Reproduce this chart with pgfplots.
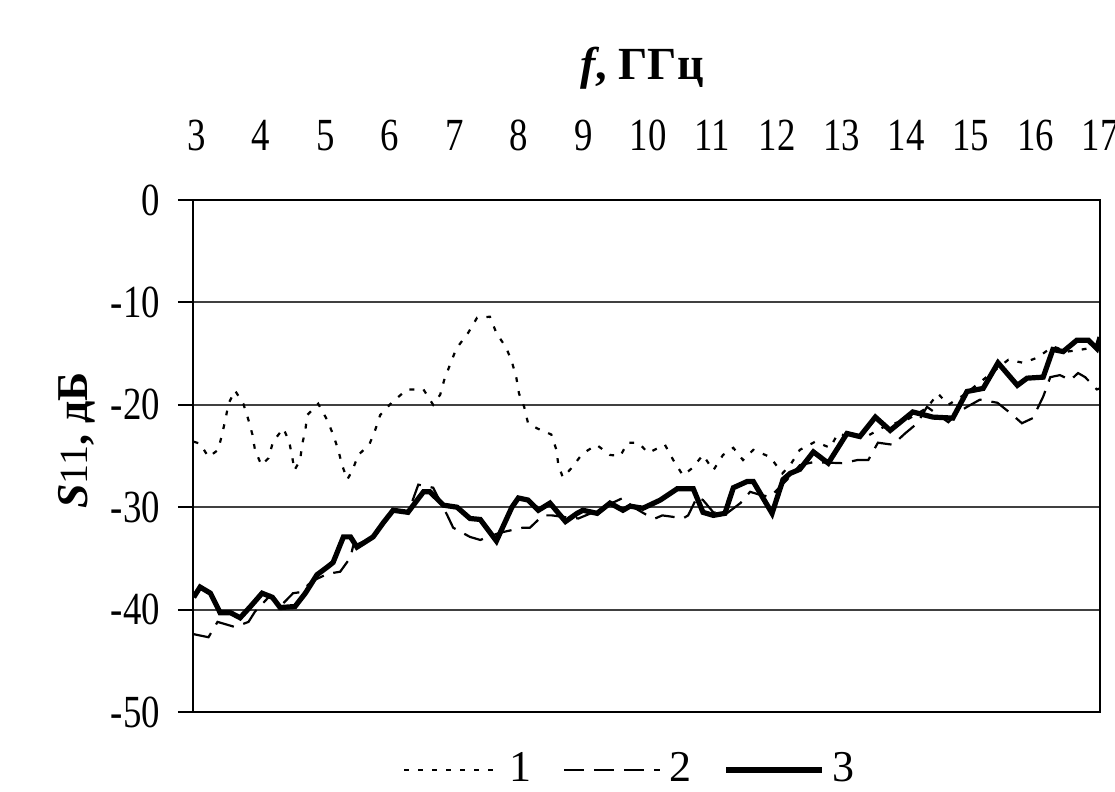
\documentclass[border=0pt]{standalone}
\usepackage{fontspec}
\setmainfont{Liberation Serif}
\newfontfamily\tickfont{Liberation Serif}[FakeStretch=0.8]
\usepackage{pgfplots}
\pgfplotsset{compat=1.18}

\begin{document}
\begin{tikzpicture}
\useasboundingbox (-48.25pt,-20pt) rectangle (230.5pt,178pt);
\begin{axis}[
  scale only axis, width=226.75pt, height=128pt,
  at={(0,0)}, anchor=south west,
  xmin=2.95, xmax=17, ymin=-50, ymax=0,
  xtick={3,4,...,17}, ytick={-50,-40,...,0},
  xticklabel pos=top,
  xtick style={draw=none},
  ytick pos=left, tick align=outside, major tick length=3.75pt,
  ytick style={black, line width=0.5pt},
  ymajorgrids, grid style={black!75, line width=0.5pt},
  axis line style={black, line width=0.5pt},
  /pgf/number format/assume math mode=true,
  font=\fontsize{11}{13}\selectfont,
  ticklabel style={font=\fontsize{11.5}{13}\tickfont},
  xticklabel style={yshift=5pt},
  yticklabel style={xshift=-1pt},
  xlabel={\textbf{\textit{f}, ГГц}},
  xlabel style={at={(axis description cs:0.495,1)}, anchor=base, yshift=30pt,
    font=\fontsize{11.5}{13}\selectfont},
  ylabel={\textbf{\textit{S}}{\fontsize{10}{12}\selectfont 11}\textbf{, дБ}},
  ylabel style={at={(axis description cs:-0.128,0.53)}, anchor=center},
  legend columns=3,
  legend style={draw=none, fill=none, at={(0.485,0)}, anchor=center, yshift=-14.5pt,
    font=\fontsize{11}{13}\selectfont,
    /tikz/every even column/.append style={column sep=6pt}},
  legend image code/.code={\draw[#1] (0pt,0pt) -- (24pt,0pt);},
]
% 1 - dotted
\addplot[black, line width=0.55pt, dash pattern=on 1.2pt off 2.3pt] coordinates {
(2.96,-23.6) (3.06,-23.8) (3.19,-25.1) (3.34,-24.4) (3.40,-22.9) (3.45,-21.5)
(3.50,-19.9) (3.60,-18.6) (3.73,-19.9) (3.81,-21.5) (3.87,-22.9) (3.91,-24.4)
(4.01,-25.9) (4.12,-25.2) (4.19,-23.6) (4.35,-22.3) (4.44,-23.6) (4.49,-25.2)
(4.52,-26.4) (4.61,-25.4) (4.64,-23.9) (4.69,-22.5) (4.72,-21.0) (4.89,-19.9)
(5.03,-21.5) (5.12,-22.9) (5.20,-24.4) (5.26,-25.9) (5.34,-27.3) (5.42,-26.4)
(5.51,-24.9) (5.68,-23.9) (5.77,-22.5) (5.85,-21.0) (6.04,-19.7) (6.27,-18.5)
(6.52,-18.5) (6.67,-20.0) (6.78,-19.0) (6.84,-17.6) (6.93,-16.1) (7.03,-14.5)
(7.21,-13.0) (7.35,-11.5) (7.55,-11.4) (7.65,-13.0) (7.80,-14.4) (7.89,-15.8)
(7.96,-17.4) (8.00,-18.9) (8.08,-20.2) (8.14,-21.8) (8.28,-22.3) (8.50,-22.9)
(8.58,-24.4) (8.61,-25.9) (8.68,-27.1) (8.81,-26.2) (8.98,-24.8) (9.20,-23.9)
(9.41,-24.9) (9.57,-25.0) (9.68,-23.7) (9.85,-23.7) (10.00,-24.7) (10.26,-23.9)
(10.39,-25.4) (10.54,-26.9) (10.68,-26.2) (10.85,-24.9) (11.01,-26.4) (11.16,-24.9)
(11.32,-24.2) (11.47,-25.4) (11.63,-24.4) (11.89,-25.1) (12.08,-26.7) (12.20,-25.9)
(12.35,-24.4) (12.59,-23.6) (12.82,-24.2) (12.94,-22.8) (13.16,-23.2) (13.41,-23.0)
(13.70,-22.0) (14.00,-21.5) (14.32,-20.3) (14.49,-18.9) (14.65,-20.0) (14.90,-19.0)
(15.20,-17.5) (15.58,-15.6) (15.81,-15.9) (16.03,-15.4) (16.27,-14.3) (16.50,-14.8)
(16.72,-14.6) (17.00,-14.3)
};
\addlegendentry{1}
% 2 - dashed
\addplot[black, line width=0.55pt, dash pattern=on 5pt off 2.5pt] coordinates {
(2.96,-42.4) (3.19,-42.7) (3.33,-41.2) (3.60,-41.7) (3.81,-41.2) (3.91,-40.2)
(4.15,-38.6) (4.30,-39.7) (4.50,-38.4) (4.61,-38.3) (4.80,-37.2) (5.04,-36.5)
(5.23,-36.3) (5.39,-34.9) (5.43,-33.8) (5.73,-33.0) (6.05,-30.3) (6.28,-30.6)
(6.44,-27.8) (6.67,-28.1) (6.89,-30.8) (6.98,-32.0) (7.24,-32.9) (7.40,-33.2)
(7.70,-32.5) (8.06,-32.0) (8.17,-32.0) (8.37,-30.8) (8.51,-30.8) (8.75,-31.0)
(8.92,-31.1) (9.15,-30.5) (9.30,-30.0) (9.61,-29.1) (9.77,-30.0) (9.99,-30.8)
(10.11,-31.1) (10.22,-30.8) (10.45,-31.0) (10.54,-31.1) (10.62,-30.8) (10.76,-29.0)
(10.85,-29.3) (11.01,-30.5) (11.22,-30.6) (11.43,-29.6) (11.58,-28.5) (11.74,-28.8)
(11.89,-29.0) (12.00,-28.3) (12.20,-27.0) (12.35,-25.9) (12.56,-25.6) (13.01,-25.7)
(13.24,-25.4) (13.41,-25.4) (13.56,-23.7) (13.79,-23.9) (13.98,-22.8) (14.17,-21.8)
(14.32,-20.2) (14.65,-21.7) (14.79,-20.8) (14.94,-20.2) (15.14,-19.5) (15.41,-19.8)
(15.61,-20.8) (15.79,-21.8) (15.96,-21.3) (16.12,-19.2) (16.23,-17.3) (16.38,-17.1)
(16.54,-17.6) (16.66,-16.9) (16.77,-17.3) (16.95,-18.5) (17.00,-18.4)
};
\addlegendentry{2}
% 3 - solid
\addplot[black, line width=1.3pt] coordinates {
(2.96,-38.8) (3.06,-37.8) (3.22,-38.4) (3.37,-40.3) (3.53,-40.3) (3.68,-40.8)
(3.84,-39.7) (4.02,-38.4) (4.18,-38.8) (4.30,-39.8) (4.53,-39.7) (4.69,-38.4)
(4.87,-36.6) (5.04,-35.8) (5.12,-35.4) (5.28,-32.9) (5.39,-32.9) (5.49,-33.9)
(5.74,-32.9) (5.90,-31.5) (6.05,-30.3) (6.28,-30.5) (6.52,-28.5) (6.62,-28.5)
(6.83,-29.8) (7.04,-30.0) (7.24,-31.1) (7.40,-31.2) (7.65,-33.3) (7.89,-30.0)
(7.99,-29.1) (8.14,-29.3) (8.30,-30.3) (8.48,-29.6) (8.72,-31.4) (8.90,-30.6)
(8.99,-30.3) (9.21,-30.6) (9.41,-29.6) (9.61,-30.3) (9.72,-29.9) (9.92,-30.1)
(10.19,-29.3) (10.45,-28.2) (10.70,-28.2) (10.85,-30.5) (11.01,-30.8) (11.19,-30.6)
(11.32,-28.1) (11.53,-27.5) (11.63,-27.5) (11.92,-30.6) (12.09,-27.3) (12.20,-26.7)
(12.35,-26.3) (12.56,-24.6) (12.79,-25.7) (13.08,-22.8) (13.28,-23.1) (13.52,-21.2)
(13.75,-22.5) (14.10,-20.7) (14.41,-21.2) (14.72,-21.3) (14.94,-18.7) (15.19,-18.4)
(15.42,-15.9) (15.72,-18.1) (15.87,-17.4) (16.12,-17.3) (16.27,-14.6) (16.43,-14.8)
(16.64,-13.7) (16.82,-13.7) (16.95,-14.5) (17.00,-13.4)
};
\addlegendentry{3}
\end{axis}
\end{tikzpicture}
\end{document}
